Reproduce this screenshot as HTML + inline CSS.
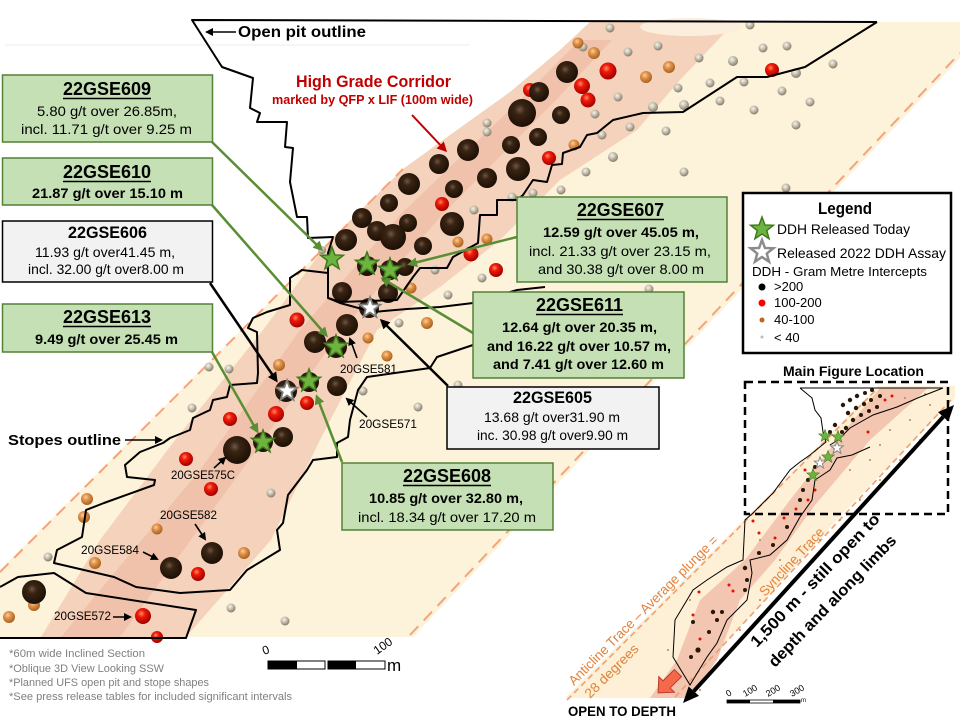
<!DOCTYPE html>
<html><head><meta charset="utf-8"><style>
html,body{margin:0;padding:0;background:#fff;}
svg{display:block;}
</style></head><body>
<svg xmlns="http://www.w3.org/2000/svg" width="960" height="720" viewBox="0 0 960 720" font-family="'Liberation Sans', Arial, sans-serif">
<defs>
<radialGradient id="gd" cx="0.42" cy="0.38" r="0.62"><stop offset="0" stop-color="#6e5746"/><stop offset="0.3" stop-color="#3a2413"/><stop offset="1" stop-color="#1b0f05"/></radialGradient>
<radialGradient id="gr" cx="0.4" cy="0.35" r="0.65"><stop offset="0" stop-color="#ff8a6a"/><stop offset="0.35" stop-color="#f01a08"/><stop offset="1" stop-color="#a00000"/></radialGradient>
<radialGradient id="go" cx="0.4" cy="0.35" r="0.65"><stop offset="0" stop-color="#fbd09c"/><stop offset="0.4" stop-color="#e0924a"/><stop offset="1" stop-color="#a8621e"/></radialGradient>
<radialGradient id="gg" cx="0.4" cy="0.35" r="0.65"><stop offset="0" stop-color="#f7f4ec"/><stop offset="0.45" stop-color="#c9c2b2"/><stop offset="1" stop-color="#847c6a"/></radialGradient>
<marker id="ag" markerWidth="10" markerHeight="10" refX="7" refY="5" orient="auto" markerUnits="userSpaceOnUse"><path d="M0,0 L10,5 L0,10 z" fill="#5a8e34"/></marker>
<marker id="ab" markerWidth="10" markerHeight="10" refX="7" refY="5" orient="auto" markerUnits="userSpaceOnUse"><path d="M0,0 L10,5 L0,10 z" fill="#000"/></marker>
<marker id="as" markerWidth="8" markerHeight="8" refX="6" refY="4" orient="auto" markerUnits="userSpaceOnUse"><path d="M0,0 L8,4 L0,8 z" fill="#000"/></marker>
<marker id="ar" markerWidth="10" markerHeight="10" refX="7" refY="5" orient="auto" markerUnits="userSpaceOnUse"><path d="M0,0 L10,5 L0,10 z" fill="#c00000"/></marker>
<path id="st" d="M0,-12 L2.94,-4.05 L11.41,-3.71 L4.76,1.55 L7.05,9.71 L0,5 L-7.05,9.71 L-4.76,1.55 L-11.41,-3.71 L-2.94,-4.05 Z"/>
</defs>

<!-- faint top line -->
<line x1="5" y1="45" x2="470" y2="45" stroke="#ececec" stroke-width="1"/>

<!-- main cream band -->
<path d="M0,570 L403,169 L450,135 L510,92 L560,50 L590,22 L960,22 L960,58 L413,637 L0,637 Z" fill="#fdf2da"/>
<!-- corridor -->
<path d="M41,637 L100,540 L175,440 L263,330 L330,240 L403,169 L450,135 L510,92 L560,50 L590,22 L735,22 L680,80 L637,130 L560,180 L500,240 L440,287 L377,330 L320,440 L271,540 L186,637 Z" fill="#f5d2bc"/>
<path d="M61,637 L200,470 L300,330 L400,215 L520,100 L580,40 L612,40 L556,100 L442,215 L342,330 L242,470 L120,637 Z" fill="#eeb8a0" opacity="0.6"/>
<ellipse cx="690" cy="27" rx="50" ry="9" fill="#fbeedd"/>

<!-- dashed trace lines -->
<line x1="0" y1="572" x2="403" y2="169" stroke="#f2a57c" stroke-width="2" stroke-dasharray="12,8"/>
<line x1="410" y1="635" x2="960" y2="53" stroke="#f2a57c" stroke-width="2" stroke-dasharray="12,8"/>

<!-- balls: gray -->
<g fill="url(#gg)">
<circle cx="610" cy="28" r="4.5"/><circle cx="750" cy="25" r="4.5"/><circle cx="583" cy="47" r="4.5"/><circle cx="628" cy="52" r="4.5"/><circle cx="658" cy="46" r="4.5"/><circle cx="699" cy="58" r="4.5"/><circle cx="733" cy="61" r="5"/><circle cx="763" cy="48" r="4.5"/><circle cx="787" cy="46" r="4.5"/><circle cx="833" cy="64" r="4.5"/><circle cx="796" cy="73" r="5"/><circle cx="782" cy="91" r="4.5"/><circle cx="744" cy="82" r="4.5"/><circle cx="710" cy="83" r="4.5"/><circle cx="678" cy="88" r="4.5"/><circle cx="618" cy="97" r="4.5"/><circle cx="595" cy="114" r="4.5"/><circle cx="653" cy="107" r="5"/><circle cx="684" cy="105" r="5"/><circle cx="720" cy="101" r="4.5"/><circle cx="754" cy="110" r="4.5"/><circle cx="810" cy="102" r="4.5"/><circle cx="796" cy="125" r="4.5"/><circle cx="630" cy="127" r="4.5"/><circle cx="666" cy="131" r="4.5"/><circle cx="602" cy="135" r="4.5"/><circle cx="613" cy="157" r="5"/><circle cx="586" cy="172" r="4.5"/><circle cx="684" cy="172" r="4.5"/><circle cx="561" cy="190" r="4.5"/><circle cx="786" cy="188" r="4.5"/><circle cx="487" cy="123" r="4.5"/><circle cx="487" cy="132" r="4.5"/><circle cx="512" cy="197" r="4.5"/><circle cx="533" cy="193" r="4.5"/><circle cx="474" cy="210" r="4.5"/><circle cx="435" cy="270" r="4.5"/><circle cx="482" cy="278" r="4.5"/><circle cx="448" cy="295" r="4.5"/><circle cx="399" cy="323" r="4.5"/><circle cx="649" cy="289" r="4.5"/><circle cx="458" cy="385" r="4.5"/><circle cx="209" cy="367" r="4.5"/><circle cx="229" cy="369" r="4.5"/><circle cx="192" cy="408" r="4.5"/><circle cx="363" cy="391" r="4.5"/><circle cx="418" cy="407" r="4.5"/><circle cx="322" cy="250" r="4"/><circle cx="271" cy="493" r="4.5"/><circle cx="48" cy="557" r="4.5"/><circle cx="231" cy="608" r="4.5"/><circle cx="285" cy="621" r="4.5"/>
</g>
<!-- orange -->
<g fill="url(#go)">
<circle cx="578" cy="43" r="5.5"/><circle cx="594" cy="53" r="6"/><circle cx="646" cy="77" r="6"/><circle cx="669" cy="67" r="6"/><circle cx="574" cy="145" r="5.5"/><circle cx="458" cy="242" r="5.5"/><circle cx="487" cy="239" r="5.5"/><circle cx="411" cy="288" r="5.5"/><circle cx="427" cy="323" r="6"/><circle cx="368" cy="338" r="5.5"/><circle cx="387" cy="356" r="5.5"/><circle cx="279" cy="365" r="6"/><circle cx="87" cy="499" r="6"/><circle cx="84" cy="517" r="6"/><circle cx="157" cy="529" r="5.5"/><circle cx="244" cy="553" r="6"/><circle cx="95" cy="563" r="6"/><circle cx="34" cy="605" r="6"/><circle cx="9" cy="617" r="6"/>
</g>
<!-- red -->
<g fill="url(#gr)">
<circle cx="608" cy="71" r="8.5"/><circle cx="582" cy="86" r="8"/><circle cx="588" cy="100" r="7.5"/><circle cx="549" cy="158" r="7"/><circle cx="772" cy="70" r="7"/><circle cx="530" cy="90" r="7"/><circle cx="442" cy="204" r="7"/><circle cx="471" cy="254" r="7.5"/><circle cx="496" cy="270" r="7"/><circle cx="297" cy="320" r="7.5"/><circle cx="307" cy="403" r="7"/><circle cx="276" cy="414" r="8"/><circle cx="230" cy="419" r="7"/><circle cx="186" cy="459" r="7"/><circle cx="211" cy="489" r="7"/><circle cx="198" cy="574" r="7"/><circle cx="143" cy="616" r="8"/><circle cx="157" cy="637" r="6"/>
</g>
<!-- dark -->
<g fill="url(#gd)">
<circle cx="567" cy="72" r="11"/><circle cx="539" cy="92" r="10"/><circle cx="522" cy="113" r="14"/><circle cx="561" cy="115" r="9"/><circle cx="511" cy="145" r="9"/><circle cx="538" cy="137" r="9"/><circle cx="518" cy="169" r="12"/><circle cx="487" cy="178" r="10"/><circle cx="468" cy="150" r="11"/><circle cx="439" cy="164" r="10"/><circle cx="409" cy="184" r="11"/><circle cx="454" cy="189" r="9"/><circle cx="389" cy="203" r="9"/><circle cx="408" cy="223" r="9"/><circle cx="452" cy="224" r="12"/><circle cx="362" cy="218" r="10"/><circle cx="377" cy="231" r="10"/><circle cx="393" cy="237" r="13"/><circle cx="346" cy="240" r="11"/><circle cx="423" cy="246" r="9"/><circle cx="367" cy="266" r="10"/><circle cx="390" cy="270" r="10"/><circle cx="405" cy="267" r="9"/><circle cx="342" cy="292" r="10"/><circle cx="388" cy="293" r="10"/><circle cx="369" cy="308" r="10"/><circle cx="347" cy="325" r="11"/><circle cx="315" cy="342" r="11"/><circle cx="336" cy="347" r="11"/><circle cx="337" cy="386" r="10"/><circle cx="309" cy="382" r="10"/><circle cx="286" cy="391" r="11"/><circle cx="283" cy="437" r="10"/><circle cx="263" cy="442" r="10"/><circle cx="237" cy="450" r="14"/><circle cx="212" cy="553" r="11"/><circle cx="171" cy="568" r="11"/><circle cx="34" cy="592" r="12"/>
</g>

<!-- pit outline -->
<g fill="none" stroke="#000" stroke-width="2" stroke-linejoin="round">
<path d="M877,22 L192,20 L222,67 L253,78 L250,108 L260,113 L257,122 L287,122 L285,147 L293,148 L290,182 L297,217 L307,217 L308,238 L333,237 L328,253 L328,298 L340,302 L397,300 L413,277 L420,268 L447,268 L453,257 L478,243 L480,215 L497,215 L497,200 L517,200 L523,195 L533,180 L547,182 L552,165 L562,164 L563,153 L580,147 L587,135 L597,133 L613,120 L643,113 L683,112 L737,77 L767,77 L805,67 L877,22"/>
<path d="M328,298 L340,303 L373,312 L407,309 L440,307 L473,303 L517,290 L545,287"/>
<path d="M328,273 L302,270 L290,278 L290,305 L267,312 L253,318 L248,328 L257,332 L258,373 L257,383 L230,385 L227,397 L213,400 L210,410 L193,418 L190,430 L170,438 L163,443 L140,452 L125,465 L127,477 L155,480 L154,485 L104,503 L86,510 L82,537 L57,550 L54,563 L114,577 L136,587 L180,593 L230,590 L247,570 L280,550 L277,530 L283,523 L288,495 L307,470 L313,460 L337,457 L337,443 L348,437 L350,420 L358,390 L367,377 L430,368 L437,357 L473,345"/>
<path d="M0,587 L18,577 L54,573 L86,593 L196,610 L186,638 L0,638"/>
</g>

<!-- connectors -->
<g stroke="#5a8e34" stroke-width="2.5" fill="none">
<line x1="212" y1="142" x2="321" y2="249" marker-end="url(#ag)"/>
<line x1="212" y1="205" x2="326" y2="335" marker-end="url(#ag)"/>
<line x1="212" y1="352" x2="257" y2="431" marker-end="url(#ag)"/>
<line x1="517" y1="237" x2="410" y2="264" marker-end="url(#ag)"/>
<line x1="473" y1="333" x2="383" y2="279" marker-end="url(#ag)"/>
<line x1="342" y1="462" x2="317" y2="397" marker-end="url(#ag)"/>
</g>
<g stroke="#000" stroke-width="2.5" fill="none">
<line x1="210" y1="283" x2="276" y2="380" marker-end="url(#ab)"/>
<line x1="448" y1="386" x2="382" y2="321" marker-end="url(#ab)"/>
</g>
<g stroke="#000" stroke-width="1.6" fill="none">
<line x1="357" y1="358" x2="350" y2="339" marker-end="url(#as)"/>
<line x1="367" y1="417" x2="347" y2="399" marker-end="url(#as)"/>
<line x1="214" y1="468" x2="225" y2="458" marker-end="url(#as)"/>
<line x1="195" y1="524" x2="205" y2="539" marker-end="url(#as)"/>
<line x1="143" y1="552" x2="157" y2="559" marker-end="url(#as)"/>
<line x1="113" y1="617" x2="130" y2="617" marker-end="url(#as)"/>
<line x1="125" y1="440" x2="161" y2="440" marker-end="url(#as)"/>
<line x1="236" y1="32" x2="207" y2="32" marker-end="url(#as)"/>
</g>
<line x1="412" y1="115" x2="445" y2="150" stroke="#c00000" stroke-width="2" marker-end="url(#ar)"/>

<!-- stars -->
<g fill="#6db33f" stroke="#3f7a1d" stroke-width="1.5">
<use href="#st" transform="translate(332,259)"/><use href="#st" transform="translate(367,264)"/><use href="#st" transform="translate(390,270)"/><use href="#st" transform="translate(336,347)"/><use href="#st" transform="translate(309,381)"/><use href="#st" transform="translate(263,442)"/>
</g>
<g fill="#fff" stroke="#7d7d7d" stroke-width="2">
<use href="#st" transform="translate(370,308) scale(0.9)"/><use href="#st" transform="translate(287,391) scale(0.9)"/>
</g>

<!-- labels -->
<g font-weight="bold" fill="#000">
<text x="238" y="37" font-size="16" textLength="128" lengthAdjust="spacingAndGlyphs">Open pit outline</text>
<text x="8" y="445" font-size="15" textLength="113" lengthAdjust="spacingAndGlyphs">Stopes outline</text>
</g>
<text x="296" y="87" font-size="17" font-weight="bold" fill="#c00000" textLength="155" lengthAdjust="spacingAndGlyphs">High Grade Corridor</text>
<text x="272" y="104" font-size="12.5" font-weight="bold" fill="#c00000" textLength="201" lengthAdjust="spacingAndGlyphs">marked by QFP x LIF (100m wide)</text>
<g font-size="12" fill="#000">
<text x="340" y="373" textLength="57" lengthAdjust="spacingAndGlyphs">20GSE581</text>
<text x="359" y="428" textLength="58" lengthAdjust="spacingAndGlyphs">20GSE571</text>
<text x="171" y="479" textLength="64" lengthAdjust="spacingAndGlyphs">20GSE575C</text>
<text x="160" y="519" textLength="57" lengthAdjust="spacingAndGlyphs">20GSE582</text>
<text x="81" y="554" textLength="58" lengthAdjust="spacingAndGlyphs">20GSE584</text>
<text x="54" y="620" textLength="57" lengthAdjust="spacingAndGlyphs">20GSE572</text>
</g>

<!-- boxes -->
<g stroke-width="1.5">
<rect x="2.5" y="75" width="210" height="67" fill="#c5e0b4" stroke="#538135"/>
<rect x="2.5" y="158" width="210" height="47" fill="#c5e0b4" stroke="#538135"/>
<rect x="2.5" y="221" width="210" height="61" fill="#f2f2f2" stroke="#000"/>
<rect x="2.5" y="304" width="210" height="48" fill="#c5e0b4" stroke="#538135"/>
<rect x="517" y="197" width="210" height="85" fill="#c5e0b4" stroke="#538135"/>
<rect x="473" y="292" width="211" height="86" fill="#c5e0b4" stroke="#538135"/>
<rect x="447" y="387" width="212" height="62" fill="#f2f2f2" stroke="#000"/>
<rect x="342" y="463" width="211" height="67" fill="#c5e0b4" stroke="#538135"/>
</g>
<g fill="#000" font-size="14">
<text x="63" y="95" font-size="18" font-weight="bold" textLength="88" lengthAdjust="spacingAndGlyphs">22GSE609</text>
<text x="37" y="116" textLength="140" lengthAdjust="spacingAndGlyphs">5.80 g/t over 26.85m,</text>
<text x="21" y="134" textLength="171" lengthAdjust="spacingAndGlyphs">incl. 11.71 g/t over 9.25 m</text>
<text x="63" y="178" font-size="18" font-weight="bold" textLength="88" lengthAdjust="spacingAndGlyphs">22GSE610</text>
<text x="32" y="198" font-weight="bold" textLength="151" lengthAdjust="spacingAndGlyphs">21.87 g/t over 15.10 m</text>
<text x="68" y="238" font-size="17" font-weight="bold" textLength="79" lengthAdjust="spacingAndGlyphs">22GSE606</text>
<text x="35" y="257" textLength="140" lengthAdjust="spacingAndGlyphs">11.93 g/t over41.45 m,</text>
<text x="28" y="274" textLength="156" lengthAdjust="spacingAndGlyphs">incl. 32.00 g/t over8.00 m</text>
<text x="63" y="323" font-size="18" font-weight="bold" textLength="88" lengthAdjust="spacingAndGlyphs">22GSE613</text>
<text x="35" y="344" font-weight="bold" textLength="143" lengthAdjust="spacingAndGlyphs">9.49 g/t over 25.45 m</text>
<text x="577" y="216" font-size="18" font-weight="bold" textLength="87" lengthAdjust="spacingAndGlyphs">22GSE607</text>
<text x="543" y="237" font-weight="bold" textLength="156" lengthAdjust="spacingAndGlyphs">12.59 g/t over 45.05 m,</text>
<text x="529" y="256" textLength="182" lengthAdjust="spacingAndGlyphs">incl. 21.33 g/t over 23.15 m,</text>
<text x="538" y="274" textLength="166" lengthAdjust="spacingAndGlyphs">and 30.38 g/t over 8.00 m</text>
<text x="536" y="311" font-size="18" font-weight="bold" textLength="87" lengthAdjust="spacingAndGlyphs">22GSE611</text>
<text x="502" y="332" font-weight="bold" textLength="155" lengthAdjust="spacingAndGlyphs">12.64 g/t over 20.35 m,</text>
<text x="487" y="351" font-weight="bold" textLength="184" lengthAdjust="spacingAndGlyphs">and 16.22 g/t over 10.57 m,</text>
<text x="493" y="369" font-weight="bold" textLength="171" lengthAdjust="spacingAndGlyphs">and 7.41 g/t over 12.60 m</text>
<text x="513" y="403" font-size="17" font-weight="bold" textLength="79" lengthAdjust="spacingAndGlyphs">22GSE605</text>
<text x="484" y="422" textLength="136" lengthAdjust="spacingAndGlyphs">13.68 g/t over31.90 m</text>
<text x="477" y="440" textLength="151" lengthAdjust="spacingAndGlyphs">inc. 30.98 g/t over9.90 m</text>
<text x="403" y="482" font-size="18" font-weight="bold" textLength="88" lengthAdjust="spacingAndGlyphs">22GSE608</text>
<text x="369" y="503" font-weight="bold" textLength="154" lengthAdjust="spacingAndGlyphs">10.85 g/t over 32.80 m,</text>
<text x="358" y="522" textLength="178" lengthAdjust="spacingAndGlyphs">incl. 18.34 g/t over 17.20 m</text>
</g>
<g stroke="#000" stroke-width="1.5">
<line x1="63" y1="98.5" x2="151" y2="98.5"/><line x1="63" y1="181.5" x2="151" y2="181.5"/><line x1="63" y1="326.5" x2="151" y2="326.5"/>
<line x1="577" y1="219.5" x2="664" y2="219.5"/><line x1="536" y1="314.5" x2="623" y2="314.5"/><line x1="403" y1="485.5" x2="491" y2="485.5"/>
</g>

<!-- legend -->
<rect x="743" y="193" width="208" height="160" fill="#fff" stroke="#000" stroke-width="2.5"/>
<text x="818" y="214" font-size="17" font-weight="bold" textLength="54" lengthAdjust="spacingAndGlyphs">Legend</text>
<use href="#st" transform="translate(762,229)" fill="#6db33f" stroke="#3f7a1d" stroke-width="1.5"/>
<use href="#st" transform="translate(762,252)" fill="#fff" stroke="#8c8c8c" stroke-width="2.5"/>
<g font-size="14" fill="#000">
<text x="777" y="234" textLength="133" lengthAdjust="spacingAndGlyphs">DDH Released Today</text>
<text x="777" y="258" textLength="169" lengthAdjust="spacingAndGlyphs">Released 2022 DDH Assay</text>
<text x="752" y="276" font-size="13" textLength="175" lengthAdjust="spacingAndGlyphs">DDH - Gram Metre Intercepts</text>
<text x="774" y="291" font-size="13">&gt;200</text>
<text x="774" y="307" font-size="13">100-200</text>
<text x="774" y="324" font-size="13">40-100</text>
<text x="774" y="342" font-size="13">&lt; 40</text>
</g>
<circle cx="762" cy="287" r="3.5" fill="#000"/>
<circle cx="762" cy="303" r="3.5" fill="#f00"/>
<circle cx="762" cy="320" r="2.5" fill="#c0651e"/>
<circle cx="762" cy="337" r="1.5" fill="#bbb"/>

<!-- inset -->
<path d="M565,698 L878,386 L955,386 L955,398 L843,513 L677,698 Z" fill="#fdf0d6"/>
<path d="M650,698 L677,660 L700,600 L745,560 L790,500 L845,430 L880,388 L928,388 L870,440 L815,505 L775,560 L740,600 L717,660 L690,698 Z" fill="#f2c6b0"/>
<line x1="567" y1="700" x2="877" y2="389" stroke="#f0a070" stroke-width="1.6" stroke-dasharray="6,4"/>
<line x1="675" y1="697" x2="951" y2="400" stroke="#f0a070" stroke-width="1.6" stroke-dasharray="6,4"/>
<g fill="#2a1708">
<circle cx="843" cy="405" r="2.2"/><circle cx="850" cy="400" r="2.2"/><circle cx="857" cy="396" r="2.2"/><circle cx="865" cy="393" r="2"/><circle cx="872" cy="390" r="2"/><circle cx="848" cy="413" r="2.2"/><circle cx="856" cy="408" r="2.2"/><circle cx="864" cy="404" r="2.2"/><circle cx="871" cy="400" r="2"/><circle cx="880" cy="396" r="2"/><circle cx="853" cy="420" r="2.2"/><circle cx="861" cy="415" r="2"/><circle cx="869" cy="411" r="2"/><circle cx="877" cy="407" r="2"/><circle cx="846" cy="428" r="2.2"/><circle cx="835" cy="425" r="2.2"/><circle cx="842" cy="432" r="2"/><circle cx="830" cy="432" r="2"/><circle cx="815" cy="467" r="2"/><circle cx="808" cy="480" r="2"/><circle cx="803" cy="490" r="2"/>
<circle cx="800" cy="500" r="2"/><circle cx="787" cy="527" r="2"/><circle cx="773" cy="545" r="2"/><circle cx="759" cy="553" r="2"/><circle cx="745" cy="568" r="2.2"/><circle cx="747" cy="580" r="2"/><circle cx="745" cy="590" r="2"/><circle cx="713" cy="612" r="2.2"/><circle cx="722" cy="612" r="2"/><circle cx="717" cy="620" r="2"/><circle cx="709" cy="632" r="2"/><circle cx="698" cy="650" r="2.6"/><circle cx="691" cy="657" r="2"/><circle cx="693" cy="622" r="2"/>
</g>
<g fill="#e81000">
<circle cx="808" cy="500" r="1.5"/><circle cx="796" cy="509" r="1.5"/><circle cx="784" cy="518" r="1.5"/><circle cx="775" cy="538" r="1.5"/><circle cx="759" cy="533" r="1.5"/><circle cx="753" cy="521" r="1.5"/><circle cx="729" cy="585" r="1.5"/><circle cx="733" cy="591" r="1.5"/><circle cx="693" cy="615" r="1.5"/><circle cx="700" cy="639" r="1.5"/><circle cx="699" cy="592" r="1.5"/><circle cx="885" cy="400" r="1.5"/><circle cx="892" cy="396" r="1.5"/><circle cx="868" cy="432" r="1.5"/><circle cx="815" cy="490" r="1.5"/><circle cx="805" cy="470" r="1.5"/>
</g>
<g fill="#b08a5a">
<circle cx="760" cy="540" r="1"/><circle cx="780" cy="560" r="1"/><circle cx="800" cy="560" r="1"/><circle cx="820" cy="540" r="1"/><circle cx="840" cy="520" r="1"/><circle cx="860" cy="500" r="1"/><circle cx="880" cy="480" r="1"/><circle cx="900" cy="460" r="1"/><circle cx="920" cy="440" r="1"/><circle cx="700" cy="560" r="1"/><circle cx="690" cy="600" r="1"/><circle cx="720" cy="660" r="1"/><circle cx="760" cy="600" r="1"/><circle cx="700" cy="690" r="1"/><circle cx="850" cy="470" r="1"/><circle cx="870" cy="460" r="1"/><circle cx="890" cy="430" r="1"/><circle cx="910" cy="420" r="1"/><circle cx="930" cy="405" r="1"/><circle cx="880" cy="445" r="1"/><circle cx="668" cy="650" r="1"/><circle cx="740" cy="630" r="1"/><circle cx="905" cy="398" r="1"/><circle cx="925" cy="394" r="1"/>
</g>
<g fill="none" stroke="#000" stroke-width="1">
<path d="M800,388 L943,388"/>
<path d="M800,388 L812,398 L815,410 L821,418 L823,432 L826,442 L810,455 L800,462 L790,470 L773,493 L753,513 L745,520 L743,560 L727,567 L707,580 L693,590 L675,620 L673,657 L690,685 L693,680 L707,657 L717,643 L727,620 L747,600 L752,573 L750,560 L770,555 L787,540 L800,517 L812,500 L815,480 L830,470 L837,458 L852,455 L870,447"/>
<path d="M943,388 L920,397 L897,407 L873,415 L850,428 L838,440 L830,445"/>
</g>
<g fill="#6db33f" stroke="#3f7a1d" stroke-width="1">
<use href="#st" transform="translate(825,436) scale(0.55)"/><use href="#st" transform="translate(838,437) scale(0.55)"/><use href="#st" transform="translate(828,457) scale(0.55)"/><use href="#st" transform="translate(813,475) scale(0.55)"/>
</g>
<g fill="#fff" stroke="#888" stroke-width="2">
<use href="#st" transform="translate(837,448) scale(0.55)"/><use href="#st" transform="translate(820,463) scale(0.5)"/>
</g>
<rect x="745" y="382" width="203" height="132" fill="none" stroke="#000" stroke-width="2.5" stroke-dasharray="8,5"/>
<text x="783" y="376" font-size="14" font-weight="bold" textLength="141" lengthAdjust="spacingAndGlyphs">Main Figure Location</text>

<!-- big arrow -->
<line x1="693.8" y1="691.2" x2="943.2" y2="416.8" stroke="#000" stroke-width="4"/>
<polygon points="954,405 948.4,421.5 938,412.1" fill="#000"/>
<polygon points="683,703 699,695.9 688.6,686.5" fill="#000"/>
<g font-size="16" font-weight="bold" fill="#000">
<text transform="translate(757,648) rotate(-46)" textLength="178" lengthAdjust="spacingAndGlyphs">1,500 m - still open to</text>
<text transform="translate(775,668) rotate(-46)" textLength="176" lengthAdjust="spacingAndGlyphs">depth and along limbs</text>
</g>
<g fill="#e2823a" font-size="13.5">
<text transform="translate(574,686) rotate(-45)" textLength="205" lengthAdjust="spacingAndGlyphs">Anticline Trace – Average plunge =</text>
<text transform="translate(590,699) rotate(-45)" textLength="70" lengthAdjust="spacingAndGlyphs">28 degrees</text>
<text transform="translate(765,597) rotate(-47)" textLength="88" lengthAdjust="spacingAndGlyphs">Syncline Trace</text>
</g>
<polygon transform="translate(668,683) rotate(135)" points="-14,-5 2,-5 2,-11 14,0 2,11 2,5 -14,5" fill="#f4694a" stroke="#c0392b" stroke-width="1"/>
<text x="568" y="716" font-size="14" font-weight="bold" textLength="108" lengthAdjust="spacingAndGlyphs">OPEN TO DEPTH</text>
<!-- inset scale -->
<rect x="727" y="700" width="73" height="3" fill="#fff" stroke="#000" stroke-width="0.8"/>
<rect x="727" y="700" width="23" height="3" fill="#000"/>
<rect x="773" y="700" width="27" height="3" fill="#000"/>
<g font-size="9" fill="#000">
<text transform="translate(728,697) rotate(-30)">0</text>
<text transform="translate(745,697) rotate(-30)">100</text>
<text transform="translate(768,697) rotate(-30)">200</text>
<text transform="translate(792,697) rotate(-30)">300</text>
<text x="801" y="702" font-size="6">m</text>
</g>

<!-- main scale bar -->
<rect x="268" y="661" width="57" height="8" fill="#fff" stroke="#000" stroke-width="1"/>
<rect x="328" y="661" width="57" height="8" fill="#fff" stroke="#000" stroke-width="1"/>
<rect x="268" y="661" width="29" height="8" fill="#000"/>
<rect x="328" y="661" width="28" height="8" fill="#000"/>
<text transform="translate(264,655) rotate(-20)" font-size="12">0</text>
<text transform="translate(377,655) rotate(-35)" font-size="12">100</text>
<text x="387" y="671" font-size="17">m</text>

<!-- footnotes -->
<g fill="#808080" font-size="11">
<text x="9" y="657" textLength="136" lengthAdjust="spacingAndGlyphs">*60m wide Inclined Section</text>
<text x="9" y="672" textLength="155" lengthAdjust="spacingAndGlyphs">*Oblique 3D View Looking SSW</text>
<text x="9" y="686" textLength="200" lengthAdjust="spacingAndGlyphs">*Planned UFS open pit and stope shapes</text>
<text x="9" y="700" textLength="283" lengthAdjust="spacingAndGlyphs">*See press release tables for included significant intervals</text>
</g>
</svg>
</body></html>
